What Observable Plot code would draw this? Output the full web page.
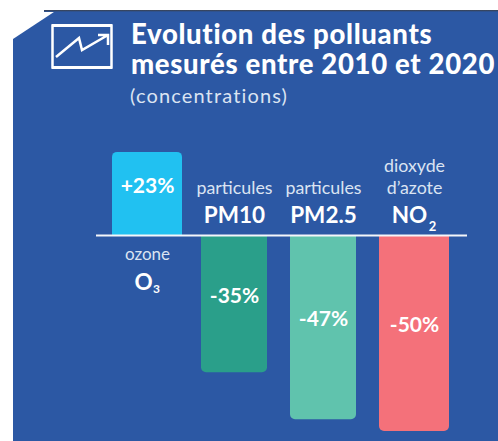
<!DOCTYPE html>
<html lang="fr"><head><meta charset="utf-8">
<script src="https://cdn.jsdelivr.net/npm/d3@7"></script>
<script src="https://cdn.jsdelivr.net/npm/@observablehq/plot@0.6"></script>
<style>
html,body{margin:0;padding:0;background:#fff;width:498px;height:441px;overflow:hidden;font-family:Lato,sans-serif}
#panel{position:absolute;left:13px;top:10px;width:485px;height:431px;background:#2c58a4;clip-path:polygon(0 29px,44px 0,100% 0,100% 100%,0 100%)}
#shadow{position:absolute;left:44px;top:10px;width:454px;height:2px;background:linear-gradient(#3a3f4a,#2c58a4)}
#icon{position:absolute;left:50px;top:23px;width:64px;height:47px;background-image:url("data:image/svg+xml,%3Csvg xmlns='http://www.w3.org/2000/svg' width='64' height='47' fill='none' stroke='white'%3E%3Cpath stroke-width='2.5' d='M2.5 2.5H61.5V44.5H2.5Z'/%3E%3Cpath stroke-width='3' d='M2 2.5H62M2 44.5H62'/%3E%3Cpath stroke-width='2.5' d='M6 34L29 15L32 27L58 12M48 12H58V22'/%3E%3C/svg%3E")}
.t{position:absolute;left:131px;color:#fff;white-space:nowrap;font-weight:900;font-size:27.5px;line-height:30px;letter-spacing:.67px}
#sub{position:absolute;left:130px;top:83px;color:#dbe4f2;font-size:20px;line-height:24px;white-space:nowrap;letter-spacing:1.15px}
#chart{position:absolute;left:0;top:0}
</style></head><body>
<div id="panel"></div><div id="shadow"></div><div id="icon"></div>
<div class="t" style="top:19px">Evolution des polluants</div>
<div class="t" style="top:49px">mesurés entre 2010 et 2020</div>
<div id="sub">(concentrations)</div>
<div id="chart"></div>
<script>
const categories = ["ozone", "PM10", "PM2.5", "NO2"];
const barValues = [21.2, -35, -47, -50];
const valueLabels = ["+23%", "-35%", "-47%", "-50%"];
const descriptors = ["ozone", "particules", "particules", "d’azote"];
const extraDescriptors = ["", "", "", "dioxyde"];
const formulas = ["O", "PM10", "PM2.5", "NO"];
const subscripts = ["3", "", "", "2"];
const colors = ["#21c1f1", "#2a9f8a", "#60c3ad", "#f4717a"];

const rows = categories.map((c, i) => ({
  c, value: barValues[i], label: valueLabels[i], desc: descriptors[i],
  extra: extraDescriptors[i], formula: formulas[i], sub: subscripts[i]
}));
const up = rows.filter(d => d.value > 0);
const down = rows.filter(d => d.value < 0);
const pm = down.filter(d => !d.sub);
const no2 = down.filter(d => d.sub);
const thin = {fontFamily: "Lato", fontSize: 17.8, fontWeight: 400, fill: "#dbe4f2"};
const bold = {fontFamily: "Lato", fontSize: 22.5, fontWeight: 700, fill: "#fff"};
const val  = {fontFamily: "Lato", fontSize: 21, fontWeight: 700, fill: "#fff"};

const plot = Plot.plot({
  width: 498, height: 441,
  marginLeft: 96, marginRight: 31, marginTop: 0, marginBottom: 0,
  style: {background: "transparent", overflow: "visible"},
  x: {type: "band", domain: categories, range: [102.5, 458.5], paddingInner: 0.2135, paddingOuter: 0.10675, axis: null},
  y: {domain: [-52.55, 59.95], range: [441, 0], axis: null},
  color: {domain: categories, range: colors},
  marks: [
    Plot.barY(up, {x: "c", y: "value", fill: "c", rx1y1: 5, rx2y1: 5}),
    Plot.barY(pm, {x: "c", y: "value", fill: "c", insetRight: 4, rx1y2: 5, rx2y2: 5}),
    Plot.barY(no2, {x: "c", y: "value", fill: "c", rx1y2: 5, rx2y2: 5}),
    Plot.ruleY([0], {stroke: "#f4f6fa", strokeWidth: 2}),
    Plot.text([...up, ...no2], {x: "c", y: d => d.value / 2, text: "label", dy: -8, ...val}),
    Plot.text(pm, {x: "c", y: d => d.value / 2, text: "label", dy: -8, dx: -2, ...val}),
    Plot.text(pm, {x: "c", y: 0, text: "desc", dy: -47, dx: -2, ...thin}),
    Plot.text(no2, {x: "c", y: 0, text: "desc", dy: -47, ...thin}),
    Plot.text(no2, {x: "c", y: 0, text: "extra", dy: -69, ...thin}),
    Plot.text(pm, {x: "c", y: 0, text: "formula", dy: -20, dx: -2, ...bold}),
    Plot.text(no2, {x: "c", y: 0, text: "formula", dy: -20, dx: -5, ...bold}),
    Plot.text(no2, {x: "c", y: 0, text: "sub", dy: -9, dx: 18, ...bold, fontSize: 13}),
    Plot.text(up, {x: "c", y: 0, text: "desc", dy: 19, ...thin, fontSize: 17}),
    Plot.text(up, {x: "c", y: 0, text: "formula", dy: 47, dx: -4, ...bold}),
    Plot.text(up, {x: "c", y: 0, text: "sub", dy: 54, dx: 9, ...bold, fontSize: 12})
  ]
});
document.getElementById("chart").appendChild(plot);
</script>
</body></html>
